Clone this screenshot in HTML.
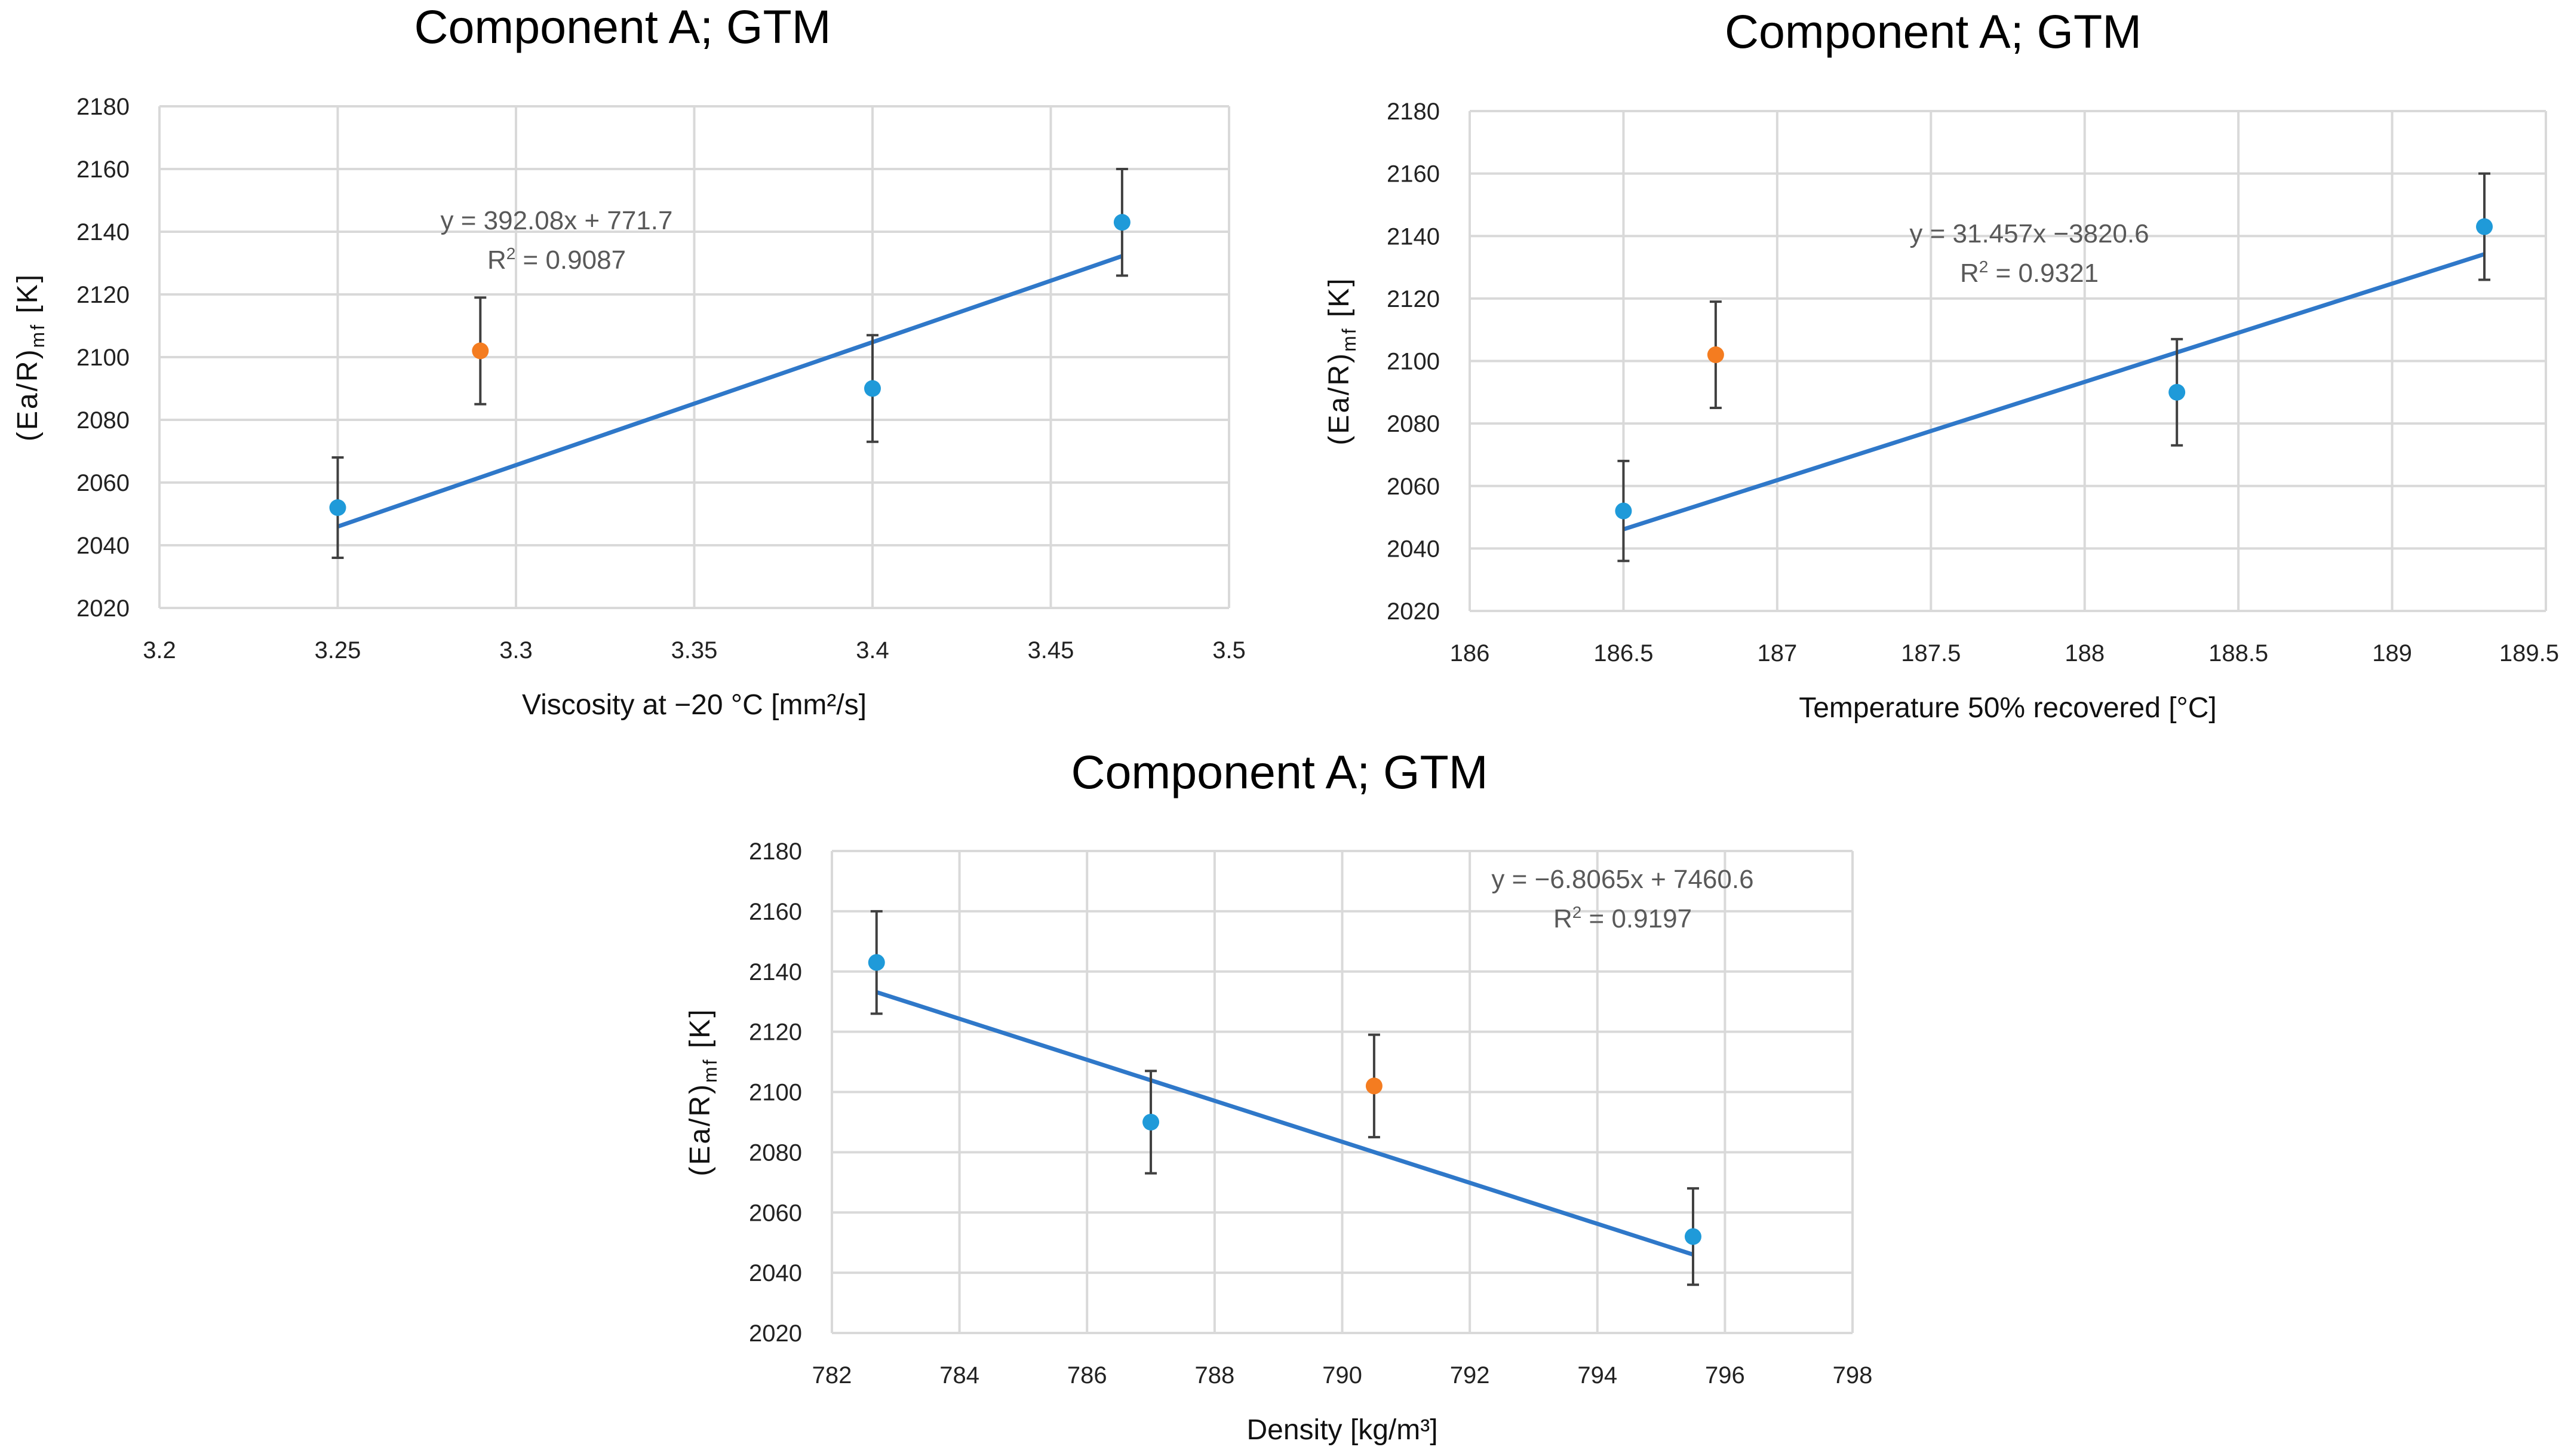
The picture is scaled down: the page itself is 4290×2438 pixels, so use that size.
<!DOCTYPE html>
<html><head><meta charset="utf-8"><style>
html,body{margin:0;padding:0;background:#fff;}
svg{display:block;font-family:"Liberation Sans",sans-serif;}
</style></head><body>
<svg id="root" width="4290" height="2438" viewBox="0 0 4290 2438" xmlns="http://www.w3.org/2000/svg"></svg>
<script>
// Chart 1: viscosity
const c1X = [3.25, 3.4, 3.47];
const c1Y = [2052, 2090, 2143];
const c1OX = [3.29];
const c1OY = [2102];
const c1Err = [16, 17, 17];
const c1OErr = [17];
const c1XTicks = [3.2, 3.25, 3.3, 3.35, 3.4, 3.45, 3.5];
const c1Fit = [392.08, 771.7];
// Chart 2: temperature
const c2X = [186.5, 188.3, 189.3];
const c2Y = [2052, 2090, 2143];
const c2OX = [186.8];
const c2OY = [2102];
const c2Err = [16, 17, 17];
const c2OErr = [17];
const c2XTicks = [186, 186.5, 187, 187.5, 188, 188.5, 189, 189.5];
const c2Fit = [31.457, -3820.6];
// Chart 3: density
const c3X = [782.7, 787, 795.5];
const c3Y = [2143, 2090, 2052];
const c3OX = [790.5];
const c3OY = [2102];
const c3Err = [17, 17, 16];
const c3OErr = [17];
const c3XTicks = [782, 784, 786, 788, 790, 792, 794, 796, 798];
const c3Fit = [-6.8065, 7460.6];
const yTicks = [2020, 2040, 2060, 2080, 2100, 2120, 2140, 2160, 2180];

const NS = "http://www.w3.org/2000/svg";
const root = document.getElementById('root');
function el(tag, attrs, parent, text){
  const e = document.createElementNS(NS, tag);
  for (const k in attrs) e.setAttribute(k, attrs[k]);
  if (text !== undefined) e.textContent = text;
  (parent || root).appendChild(e);
  return e;
}
function chart(cfg){
  const g = el('g', {});
  
  
  const xmin = cfg.xt[0], xmax = cfg.xt[cfg.xt.length-1];
  const ymin = yTicks[0], ymax = yTicks[yTicks.length-1];
  const sx = v => cfg.L + (v - xmin) / (xmax - xmin) * (cfg.R - cfg.L);
  const sy = v => cfg.B - (v - ymin) / (ymax - ymin) * (cfg.B - cfg.T);
  const t = el('text', {x: (cfg.L+cfg.R)/2 + cfg.tdx, y: cfg.ty, 'font-size': 79, 'text-anchor': 'middle', fill: '#000'}, g, 'Component A; GTM');
  
  
  yTicks.forEach(v => {
    const gl = el('line', {x1: cfg.L, x2: cfg.R, y1: sy(v), y2: sy(v), stroke: '#d9d9d9', 'stroke-width': 4}, g);
    
    
    const tl = el('text', {x: cfg.L - 50, y: sy(v) + 14, 'font-size': 40, 'text-anchor': 'end', fill: '#222'}, g, String(v));
    
    
  });
  cfg.xt.forEach((v, i) => {
    const gl = el('line', {x1: sx(v), x2: sx(v), y1: cfg.T, y2: cfg.B, stroke: '#d9d9d9', 'stroke-width': 4}, g);
    
    
    const last = i === cfg.xt.length - 1 && cfg.clipLast;
    const tl = el('text', {x: last ? 4285 : sx(v), y: cfg.B + 84, 'font-size': 40, 'text-anchor': last ? 'end' : 'middle', fill: '#222'}, g, String(v));
    
    
  });
  const xt = el('text', {x: (cfg.L+cfg.R)/2, y: cfg.B + 178, 'font-size': 48, 'text-anchor': 'middle', fill: '#111'}, g);
  xt.innerHTML = cfg.xlabel;
  
  
  const cy = (cfg.T+cfg.B)/2;
  const yt = el('text', {x: cfg.yx, y: cy, 'font-size': 48, 'text-anchor': 'middle', fill: '#111', 'letter-spacing': 3, transform: `rotate(-90 ${cfg.yx} ${cy})`}, g);
  yt.innerHTML = '(Ea/R)<tspan font-size="32" dy="12">mf</tspan><tspan dy="-12"> [K]</tspan>';
  
  
  const xs = cfg.x.slice();
  const x0 = Math.min(...xs), x1 = Math.max(...xs);
  const tr = el('line', {x1: sx(x0), y1: sy(cfg.fit[0]*x0+cfg.fit[1]), x2: sx(x1), y2: sy(cfg.fit[0]*x1+cfg.fit[1]), stroke: '#2f78c9', 'stroke-width': 7}, g);
  
  
  function pts(xa, ya, ea, color, nm){
    xa.forEach((xv, i) => {
      const px = sx(xv), p1 = sy(ya[i] + ea[i]), p2 = sy(ya[i] - ea[i]);
      const eb = el('path', {d: `M${px} ${p1}V${p2}M${px-10} ${p1}H${px+10}M${px-10} ${p2}H${px+10}`, stroke: '#404040', 'stroke-width': 4, fill: 'none'}, g);
      
      
      const c = el('circle', {cx: px, cy: sy(ya[i]), r: 14, fill: color}, g);
      
      
    });
  }
  pts(cfg.x, cfg.y, cfg.err, '#1f9ad9', 'data-point');
  pts(cfg.ox, cfg.oy, cfg.oerr, '#f47c20', 'outlier-point');
  const eq = el('text', {x: cfg.ex, y: cfg.ey, 'font-size': 44, 'text-anchor': 'middle', fill: '#595959'}, g, cfg.eq);
  
  
  const r2 = el('text', {x: cfg.ex, y: cfg.ey + 66, 'font-size': 44, 'text-anchor': 'middle', fill: '#595959'}, g);
  r2.innerHTML = 'R<tspan font-size="28" dy="-16">2</tspan><tspan dy="16"> = ' + cfg.r2 + '</tspan>';
  
  
}
chart({name:'viscosity-chart', L:267, R:2058, T:178, B:1018, ty:72, tdx:-120, yx:62,
  x:c1X, y:c1Y, err:c1Err, ox:c1OX, oy:c1OY, oerr:c1OErr, xt:c1XTicks, fit:c1Fit,
  xlabel:'Viscosity at \u221220 \u00b0C [mm\u00b2/s]', eq:'y = 392.08x + 771.7', r2:'0.9087', ex:932, ey:384});
chart({name:'temperature-chart', L:2461, R:4263, T:186, B:1023, ty:80, tdx:-125, yx:2258, clipLast:true,
  x:c2X, y:c2Y, err:c2Err, ox:c2OX, oy:c2OY, oerr:c2OErr, xt:c2XTicks, fit:c2Fit,
  xlabel:'Temperature 50% recovered [\u00b0C]', eq:'y = 31.457x \u22123820.6', r2:'0.9321', ex:3398, ey:406});
chart({name:'density-chart', L:1393, R:3102, T:1425, B:2232, ty:1320, tdx:-105, yx:1188,
  x:c3X, y:c3Y, err:c3Err, ox:c3OX, oy:c3OY, oerr:c3OErr, xt:c3XTicks, fit:c3Fit,
  xlabel:'Density [kg/m\u00b3]', eq:'y = \u22126.8065x + 7460.6', r2:'0.9197', ex:2717, ey:1487});
</script>
</body></html>
